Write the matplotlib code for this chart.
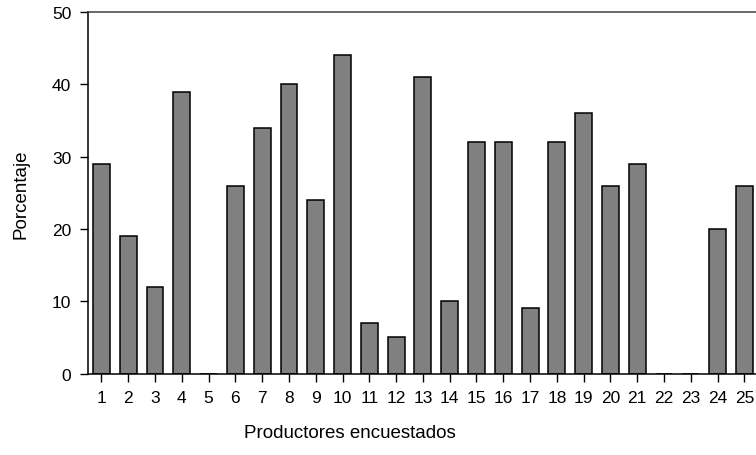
import matplotlib.pyplot as plt

plt.rcParams['font.family'] = ['Liberation Sans', 'DejaVu Sans']

productores = list(range(1, 26))
porcentaje = [29, 19, 12, 39, 0, 26, 34, 40, 24, 44, 7, 5, 41, 10, 32,
              32, 9, 32, 36, 26, 29, 0, 0, 20, 26]

fig = plt.figure(figsize=(7.56, 4.56), dpi=100)
ax = fig.add_axes([0.1164, 0.1787, 0.886, 0.7928])

ax.bar(productores, porcentaje, width=0.63, color='#808080',
       edgecolor='black', linewidth=1.1)

ax.set_xlim(0.5, 25.5)
ax.set_ylim(0, 50)
ax.set_xticks(productores)
ax.set_yticks(range(0, 51, 10))
ax.tick_params(axis='both', direction='out', length=6, width=1,
               labelsize=12.5, pad=6)

ax.spines['top'].set_color('#404040')
ax.spines['right'].set_visible(False)
for s in ax.spines.values():
    s.set_linewidth(1.1)

ax.set_xlabel("Productores encuestados", fontsize=13.5)
ax.set_ylabel("Porcentaje", fontsize=13.5)
ax.xaxis.set_label_coords(0.391, -0.14)
ax.yaxis.set_label_coords(-0.088, 0.5)

fig.savefig("out.png", dpi=100)
